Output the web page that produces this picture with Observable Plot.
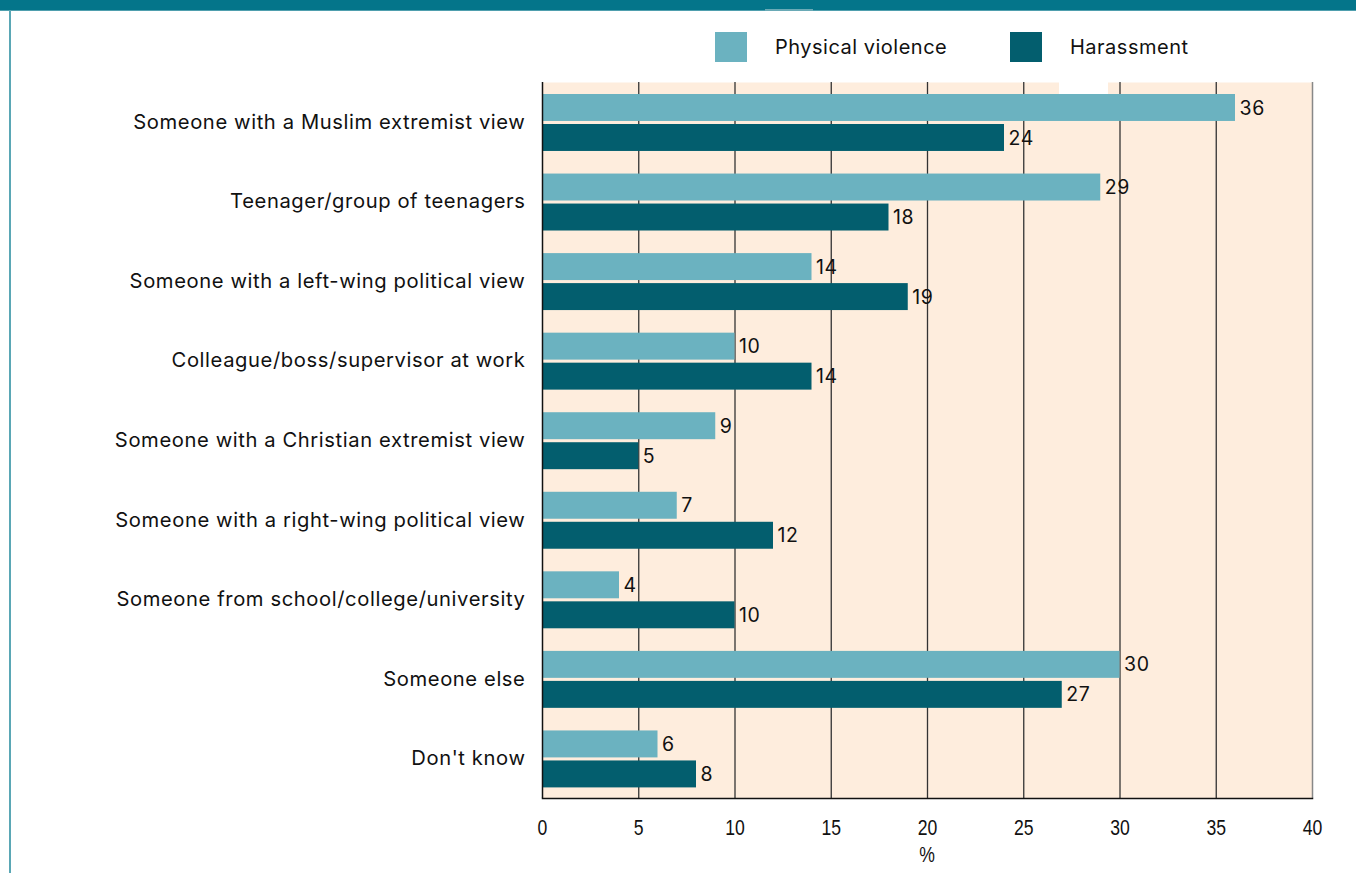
<!DOCTYPE html>
<html>
<head>
<meta charset="utf-8">
<script src="https://cdn.jsdelivr.net/npm/d3@7"></script>
<script src="https://cdn.jsdelivr.net/npm/@observablehq/plot@0.6"></script>
<style>
  html, body { margin: 0; padding: 0; background: #ffffff; }
  #wrap { position: relative; width: 1356px; height: 873px; overflow: hidden; background: #fff; }
  #topband { position: absolute; left: 0; top: 0; width: 1356px; height: 10px; background: #04758a; border-bottom: 1px solid #4f9fae; }
  #bandmark { position: absolute; left: 765px; top: 9px; width: 48px; height: 2px; background: #6aaab6; }
  #leftline { position: absolute; left: 9px; top: 10px; width: 2px; height: 863px; background: #5aa7b5; }
  #notch { position: absolute; left: 1059px; top: 82px; width: 49px; height: 12px; background: #ffffff; }
  .legend { position: absolute; top: 32px; height: 30px; display: flex; align-items: center; font-family: Inter, "Liberation Sans", Arial, sans-serif; font-size: 20px; letter-spacing: 0.5px; color: #111; }
  .sw { width: 32px; height: 30px; margin-right: 28px; }
  #chart { position: absolute; left: 0; top: 0; }
  #pct { position: absolute; left: 927px; top: 842px; font-family: "Liberation Sans", Arial, sans-serif; font-size: 22px; line-height: 26px; color: #111; transform: translateX(-50%) scaleX(0.8); }
  g[aria-label="x-axis tick label"] text { letter-spacing: 0; font-size: 22px; font-family: "Liberation Sans", Arial, sans-serif; }
</style>
</head>
<body>
<div id="wrap">
  <div id="topband"></div>
  <div id="bandmark"></div>
  <div id="leftline"></div>
  <div id="chart"></div>
</div>
<script>
const categories = [
  "Someone with a Muslim extremist view",
  "Teenager/group of teenagers",
  "Someone with a left-wing political view",
  "Colleague/boss/supervisor at work",
  "Someone with a Christian extremist view",
  "Someone with a right-wing political view",
  "Someone from school/college/university",
  "Someone else",
  "Don't know"
];
const seriesNames = ["Physical violence", "Harassment"];
const physicalViolence = [36, 29, 14, 10, 9, 7, 4, 30, 6];
const harassment = [24, 18, 19, 14, 5, 12, 10, 27, 8];
const xTicks = [0, 5, 10, 15, 20, 25, 30, 35, 40];
const xLabel = "%";
const seriesColors = ["#6bb2c0", "#035e6e"];

const pv = categories.map((c, i) => ({category: c, value: physicalViolence[i]}));
const ha = categories.map((c, i) => ({category: c, value: harassment[i]}));

const wrap = document.getElementById("wrap");
// legend
const legendLeft = [715, 1010];
seriesNames.forEach((name, i) => {
  const d = document.createElement("div");
  d.className = "legend";
  d.style.left = legendLeft[i] + "px";
  d.innerHTML = `<div class="sw" style="background:${seriesColors[i]}"></div><span>${name}</span>`;
  wrap.appendChild(d);
});
const pct = document.createElement("div");
pct.id = "pct";
pct.textContent = xLabel;
wrap.appendChild(pct);

const chart = Plot.plot({
  width: 1356,
  height: 873,
  marginTop: 82,
  marginBottom: 75,
  marginLeft: 542,
  marginRight: 44,
  style: {fontFamily: "Inter, Liberation Sans, Arial, sans-serif", fontSize: "20.2px", letterSpacing: "0.6px", color: "#111", background: "transparent"},
  x: {domain: [0, 40], ticks: xTicks, label: null, tickSize: 0, tickPadding: 21},
  y: {domain: categories, padding: 0, round: false, label: null, tickSize: 0, tickPadding: 17},
  marks: [
    Plot.frame({fill: "#feeddd", stroke: null}),
    Plot.ruleX(xTicks.filter(t => t > 0 && t < 40), {stroke: "#333", strokeWidth: 1.3}),
    Plot.ruleX([40], {stroke: "#888", strokeWidth: 1.5}),
    Plot.barX(pv, {y: "category", x: "value", fill: seriesColors[0], insetTop: 12, insetBottom: 40.6}),
    Plot.barX(ha, {y: "category", x: "value", fill: seriesColors[1], insetTop: 42, insetBottom: 10.6}),
    Plot.text(pv, {y: "category", x: "value", text: d => String(d.value), textAnchor: "start", dx: 4, dy: -14, fill: "#111", fontSize: 19.5}),
    Plot.text(ha, {y: "category", x: "value", text: d => String(d.value), textAnchor: "start", dx: 4, dy: 16, fill: "#111", fontSize: 19.5}),
    Plot.ruleX([0], {stroke: "#111", strokeWidth: 1.5}),
    Plot.frame({anchor: "bottom", stroke: "#111", strokeWidth: 1.5})
  ]
});
document.getElementById("chart").appendChild(chart);
const notch = document.createElement("div");
notch.id = "notch";
wrap.appendChild(notch);

// condense the x tick labels horizontally, keeping each centred where Plot placed it
d3.select(chart).selectAll('g[aria-label="x-axis tick label"] text').each(function() {
  const el = this;
  const old = el.getAttribute("transform") || "";
  const r0 = el.getBoundingClientRect();
  el.setAttribute("transform", `${old} scale(0.8,1)`);
  const r1 = el.getBoundingClientRect();
  const dx = (r0.x + r0.width / 2) - (r1.x + r1.width / 2);
  const dy = (r0.y + r0.height / 2) - (r1.y + r1.height / 2);
  el.setAttribute("transform", `translate(${dx},${dy}) ${old} scale(0.8,1)`);
});
</script>
</body>
</html>
